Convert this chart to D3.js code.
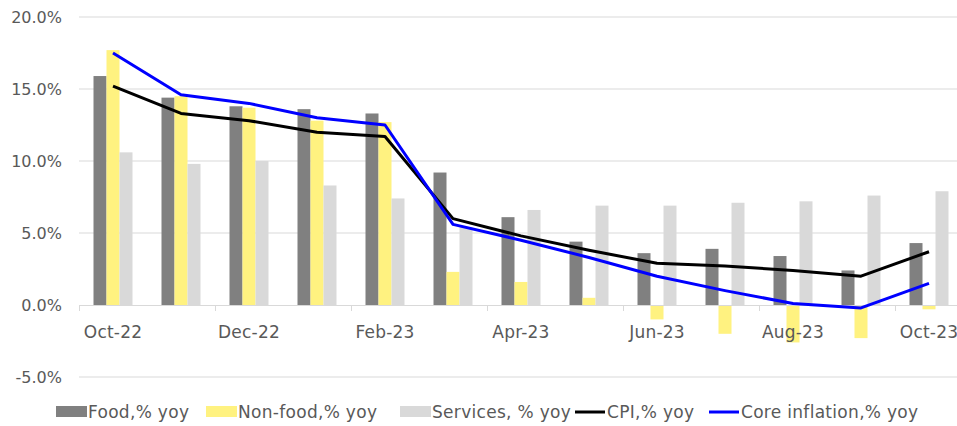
<!DOCTYPE html>
<html>
<head>
<meta charset="utf-8">
<script src="https://cdn.jsdelivr.net/npm/d3@7"></script>
<style>
  body { margin: 0; background: #fff; }
  text { font-family: "DejaVu Sans", sans-serif; fill: #595959; }
</style>
</head>
<body>
<div id="viz"></div>
<script>
const months = ['Oct-22', 'Nov-22', 'Dec-22', 'Jan-23', 'Feb-23', 'Mar-23', 'Apr-23',
    'May-23', 'Jun-23', 'Jul-23', 'Aug-23', 'Sep-23', 'Oct-23']
const food = [15.9, 14.4, 13.8, 13.6, 13.3, 9.2, 6.1, 4.4, 3.6, 3.9, 3.4, 2.4, 4.3]
const nonFood = [17.7, 14.5, 13.7, 12.8, 12.7, 2.3, 1.6, 0.5, -1.0, -2.0, -2.6, -2.3, -0.3]
const services = [10.6, 9.8, 10.0, 8.3, 7.4, 5.4, 6.6, 6.9, 6.9, 7.1, 7.2, 7.6, 7.9]
const cpi = [15.2, 13.3, 12.8, 12.0, 11.7, 6.0, 4.8, 3.8, 2.9, 2.7, 2.4, 2.0, 3.7]
const core = [17.5, 14.6, 14.0, 13.0, 12.5, 5.6, 4.5, 3.3, 2.0, 1.0, 0.1, -0.2, 1.5]
const yTicks = [-5, 0, 5, 10, 15, 20]

const barSeries = [
    { name: 'Food,% yoy', values: food, color: '#808080' },
    { name: 'Non-food,% yoy', values: nonFood, color: '#fff280' },
    { name: 'Services, % yoy', values: services, color: '#d9d9d9' }
]
const lineSeries = [
    { name: 'CPI,% yoy', values: cpi, color: '#000000' },
    { name: 'Core inflation,% yoy', values: core, color: '#0000ff' }
]

const width = 957,
    height = 426

const svg = d3.select('#viz').append('svg')
    .attr('width', width)
    .attr('height', height)

const x = d3.scaleBand()
    .domain(months)
    .range([79, 79 + 68 * months.length])

const y = d3.scaleLinear()
    .domain([-5, 20])
    .range([377, 17])

const groupW = 39
const xs = d3.scaleBand()
    .domain(barSeries.map(d => d.name))
    .range([0, groupW])

// gridlines
svg.append('g').selectAll('line').data(yTicks.filter(t => t !== 0))
    .enter().append('line')
    .attr('x1', 79).attr('x2', width)
    .attr('y1', d => y(d)).attr('y2', d => y(d))
    .attr('stroke', '#d9d9d9')
    .attr('stroke-width', 1)

// y axis labels
const yAxis = d3.axisLeft(y)
    .tickValues(yTicks)
    .tickFormat(d => d.toFixed(1) + '%')
    .tickSize(0)
    .tickPadding(0)
const yAxisG = svg.append('g')
    .attr('transform', 'translate(62,0)')
    .call(yAxis)
yAxisG.select('.domain').remove()
yAxisG.selectAll('text')
    .style('font-size', '16px')
    .attr('fill', '#595959')

// bars
barSeries.forEach(s => {
    svg.append('g').selectAll('rect').data(s.values)
        .enter().append('rect')
        .attr('x', (d, i) => x(months[i]) + (x.bandwidth() - groupW) / 2 + xs(s.name))
        .attr('y', d => y(Math.max(0, d)))
        .attr('width', xs.bandwidth())
        .attr('height', d => Math.abs(y(d) - y(0)))
        .attr('fill', s.color)
})

// x axis line and ticks
svg.append('line')
    .attr('x1', 79).attr('x2', width)
    .attr('y1', y(0) + 0.5).attr('y2', y(0) + 0.5)
    .attr('stroke', '#d9d9d9')
    .attr('stroke-width', 1)

const labelled = months.filter((m, i) => i % 2 === 0)
svg.append('g').selectAll('line').data(labelled)
    .enter().append('line')
    .attr('x1', d => x(d) + 0.5).attr('x2', d => x(d) + 0.5)
    .attr('y1', y(0)).attr('y2', y(0) + 6)
    .attr('stroke', '#d9d9d9')

svg.append('g').selectAll('text').data(labelled)
    .enter().append('text')
    .attr('x', d => x(d) + x.bandwidth() / 2)
    .attr('y', 338)
    .attr('text-anchor', 'middle')
    .style('font-size', '17px')
    .style('letter-spacing', '0.2px')
    .text(d => d)

// lines
const line = d3.line()
    .x((d, i) => x(months[i]) + x.bandwidth() / 2)
    .y(d => y(d))

lineSeries.forEach(s => {
    svg.append('path')
        .datum(s.values)
        .attr('d', line)
        .attr('fill', 'none')
        .attr('stroke', s.color)
        .attr('stroke-width', 3)
        .attr('stroke-linejoin', 'round')
})

// legend
const legendItems = [
    { name: 'Food,% yoy', color: '#808080', type: 'bar', x: 56 },
    { name: 'Non-food,% yoy', color: '#fff280', type: 'bar', x: 206 },
    { name: 'Services, % yoy', color: '#d9d9d9', type: 'bar', x: 400 },
    { name: 'CPI,% yoy', color: '#000000', type: 'line', x: 575 },
    { name: 'Core inflation,% yoy', color: '#0000ff', type: 'line', x: 709 }
]
const legend = svg.append('g')
legendItems.forEach(d => {
    if (d.type === 'bar') {
        legend.append('rect')
            .attr('x', d.x).attr('y', 406)
            .attr('width', 31).attr('height', 11)
            .attr('fill', d.color)
    } else {
        legend.append('line')
            .attr('x1', d.x).attr('x2', d.x + 30)
            .attr('y1', 412).attr('y2', 412)
            .attr('stroke', d.color)
            .attr('stroke-width', 3)
    }
    legend.append('text')
        .attr('x', d.x + 32)
        .attr('y', 418)
        .style('font-size', '17px')
        .style('letter-spacing', '0.3px')
        .text(d.name)
})
</script>
</body>
</html>
